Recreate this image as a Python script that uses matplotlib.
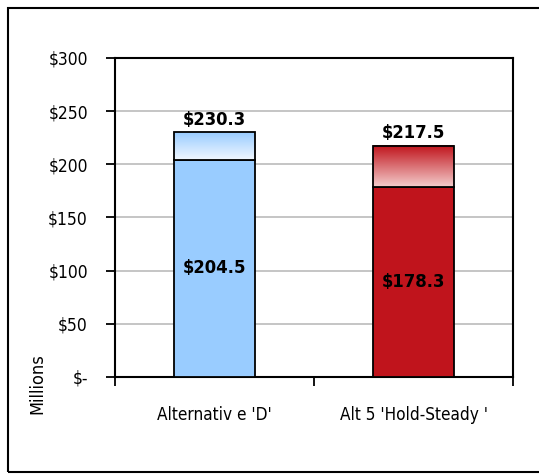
import numpy as np
import matplotlib
matplotlib.use("Agg")
import matplotlib.pyplot as plt
from matplotlib.patches import Rectangle
from matplotlib.colors import LinearSegmentedColormap

plt.rcParams['font.family'] = ['DejaVu Sans']
plt.rcParams['font.stretch'] = 'condensed'

categories = ["Alternativ e 'D'", "Alt 5 'Hold-Steady '"]
base_vals = [204.5, 178.3]
total_vals = [230.3, 217.5]
yticks = [0, 50, 100, 150, 200, 250, 300]
ytick_labels = ['$-', '$50', '$100', '$150', '$200', '$250', '$300']

base_colors = ['#99ccff', '#c0141c']
grad_top = ['#99ccff', '#c0141c']
grad_bottom = ['#f2f8ff', '#f4cccc']

fig = plt.figure(figsize=(5.39, 4.74), dpi=100)
ax = fig.add_axes([115/539, 1-377/474, 398/539, 319/474])

x = np.arange(len(categories))
w = 0.405
ax.bar(x, base_vals, width=w, color=base_colors, edgecolor='black', linewidth=1.3, zorder=3)

for i in range(len(categories)):
    top_h = total_vals[i] - base_vals[i]
    cmap = LinearSegmentedColormap.from_list('g', [grad_bottom[i], grad_top[i]])
    grad = np.linspace(0, 1, 100).reshape(-1, 1)
    ax.imshow(grad, cmap=cmap, aspect='auto', origin='lower',
              extent=[x[i]-w/2, x[i]+w/2, base_vals[i], total_vals[i]], zorder=3)
    ax.bar(x[i], top_h, bottom=base_vals[i], width=w, facecolor='none',
           edgecolor='black', linewidth=1.3, zorder=4)
    ax.text(x[i], base_vals[i]/2, f'${base_vals[i]:.1f}', ha='center', va='center',
            fontsize=13.2, fontweight='bold', color='black', zorder=5)
    ax.annotate(f'${total_vals[i]:.1f}', (x[i], total_vals[i]), xytext=(0, 2.5),
                textcoords='offset points', ha='center', va='bottom',
                fontsize=13.2, fontweight='bold', color='black', zorder=5)

ax.set_xlim(-0.5, 1.5)
ax.set_ylim(0, 300)
ax.set_yticks(yticks)
ax.set_yticklabels(ytick_labels, fontsize=12.5)
ax.yaxis.grid(True, color='#c0c0c0', linewidth=1.3, zorder=0)
ax.set_axisbelow(True)

ax.set_xticks([-0.5, 0.5, 1.5])
ax.set_xticklabels([])
ax.set_xticks(x, minor=True)
ax.set_xticklabels(categories, minor=True, fontsize=12.3)
ax.tick_params(axis='x', which='minor', length=0, pad=21)
ax.tick_params(axis='x', which='major', direction='out', length=6.5, width=1.3)
ax.tick_params(axis='y', direction='out', length=6.5, width=1.3, pad=13)

for s in ax.spines.values():
    s.set_linewidth(1.5)
    s.set_color('black')

fig.text(37/539, 1-384/474, 'Millions', rotation=90, ha='center', va='center', fontsize=13)

frame = Rectangle((8/539, 1-472/474), 1.2, 464/474, transform=fig.transFigure,
                  fill=False, edgecolor='black', linewidth=1.5, clip_on=False)
fig.patches.append(frame)

fig.savefig('out.png', dpi=100)
